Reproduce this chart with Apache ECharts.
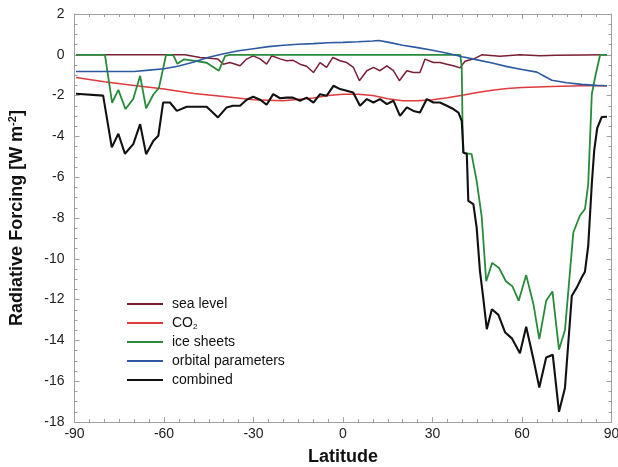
<!DOCTYPE html>
<html>
<head>
<meta charset="utf-8">
<script src="https://cdn.jsdelivr.net/npm/echarts@6/dist/echarts.min.js"></script>
<style>
  html, body { margin: 0; padding: 0; background: #fff; }
  #chart { width: 618px; height: 467px; }
</style>
</head>
<body>
<div id="chart"></div>
<script>
// Zonal mean radiative forcing by component (W m-2) versus latitude
const xTicks = [-90, -60, -30, 0, 30, 60, 90];
const yTicks = [2, 0, -2, -4, -6, -8, -10, -12, -14, -16, -18];
const seriesNames = ['sea level', 'CO2', 'ice sheets', 'orbital parameters', 'combined'];

const seaLat = [-89.5, -53.0, -47.9, -41.9, -40.1, -37.9, -34.5, -32.3, -30.1, -27.8, -25.6, -23.9, -21.1, -18.9, -16.7, -14.4, -12.2, -9.9, -7.7, -5.5, -3.4, -1.0, 1.25, 3.5, 5.5, 8.0, 10.2, 12.4, 14.7, 16.9, 18.9, 21.4, 23.6, 25.8, 27.5, 30.3, 32.5, 34.8, 37.0, 39.2, 40.9, 43.7, 46.5, 52.6, 59.3, 66.0, 71.4, 88.5];
const seaLevel = [0, 0, -0.13, -0.21, -0.46, -0.38, -0.54, -0.21, -0.05, -0.2, -0.46, -0.05, -0.2, -0.29, -0.27, -0.46, -0.56, -0.87, -0.38, -0.62, -0.13, -0.29, -0.38, -0.62, -1.27, -0.78, -0.62, -0.78, -0.54, -0.78, -1.27, -0.78, -0.87, -0.87, -0.21, -0.38, -0.38, -0.46, -0.54, -0.64, -0.32, -0.21, 0, -0.07, 0, -0.05, -0.02, 0];

const co2Lat = [-89.5, -80, -70, -60, -50, -40, -30, -20, -10, -5, 0, 5, 10, 15, 20, 25, 30, 35, 40, 45, 50, 55, 60, 70, 80, 88.5];
const co2 = [-1.11, -1.32, -1.5, -1.68, -1.9, -2.05, -2.2, -2.25, -2.12, -2.0, -1.93, -1.93, -2.0, -2.15, -2.25, -2.25, -2.2, -2.1, -1.98, -1.85, -1.74, -1.65, -1.6, -1.55, -1.52, -1.52];

const iceLat = [-89.5, -79.8, -77.4, -75.3, -72.9, -70.3, -68.0, -66.0, -63.6, -61.7, -59.3, -56.9, -55.5, -53.3, -50.2, -45.7, -41.6, -39.5, -37.9, 39.3, 39.8, 40.2, 43.1, 44.8, 46.5, 48.0, 50.0, 52.3, 54.6, 56.8, 58.9, 61.4, 63.8, 65.8, 68.1, 70.2, 72.4, 74.4, 76.1, 77.2, 79.4, 81.1, 82.2, 83.4, 84.5, 86.2, 88.5];
const iceSheets = [0, 0, -2.35, -1.72, -2.66, -2.16, -1.03, -2.62, -1.96, -1.62, 0, -0.02, -0.44, -0.22, -0.29, -0.39, -0.78, -0.05, 0, 0, -0.6, -4.79, -4.87, -6.18, -7.95, -11.1, -10.2, -10.45, -11.1, -11.35, -12.06, -10.8, -12.2, -13.94, -12.06, -11.6, -14.45, -13.5, -10.6, -8.71, -7.89, -7.56, -6.34, -1.93, -1.1, 0, 0];

const orbLat = [-89.5, -70, -65, -60, -55, -50, -45, -40, -35, -30, -25, -20, -15, -10, -5, 0, 5, 10, 12, 15, 20, 25, 30, 35, 40, 45, 50, 55, 60, 65, 67.5, 70, 75, 80, 85, 88.5];
const orbital = [-0.82, -0.82, -0.75, -0.68, -0.55, -0.35, -0.12, 0.05, 0.2, 0.3, 0.4, 0.47, 0.52, 0.55, 0.59, 0.61, 0.64, 0.68, 0.7, 0.62, 0.47, 0.35, 0.22, 0.08, -0.1, -0.25, -0.4, -0.58, -0.72, -0.85, -1.05, -1.25, -1.37, -1.45, -1.5, -1.52];

const combLat = [-89.5, -80.4, -77.5, -75.3, -73.1, -70.3, -68.0, -66.0, -63.6, -61.9, -60.3, -58.0, -55.7, -52.4, -45.7, -41.9, -39.0, -36.9, -34.5, -32.3, -30.1, -27.8, -25.6, -23.4, -21.1, -18.9, -16.8, -14.4, -12.2, -9.9, -7.7, -5.5, -3.2, -1.0, 1.25, 3.4, 5.7, 8.0, 10.2, 12.4, 14.7, 16.9, 19.1, 21.4, 23.6, 25.8, 28.1, 30.3, 32.5, 34.8, 37.0, 38.7, 39.8, 40.4, 41.5, 42.0, 43.7, 44.8, 45.9, 47.0, 48.2, 49.9, 52.1, 54.3, 56.6, 59.3, 61.4, 63.8, 65.8, 68.1, 70.3, 72.4, 74.4, 76.7, 78.4, 80.0, 81.1, 82.2, 83.4, 84.2, 85.2, 86.7, 88.5];
const combined = [-1.91, -2.0, -4.54, -3.87, -4.85, -4.38, -3.40, -4.87, -4.22, -3.97, -2.34, -2.34, -2.75, -2.55, -2.55, -3.07, -2.58, -2.50, -2.50, -2.2, -2.06, -2.2, -2.45, -1.93, -2.13, -2.1, -2.1, -2.25, -2.1, -2.34, -1.93, -2.01, -1.52, -1.68, -1.76, -1.85, -2.5, -2.17, -2.34, -2.17, -2.42, -2.25, -2.99, -2.58, -2.75, -2.83, -2.17, -2.34, -2.34, -2.5, -2.66, -2.83, -3.24, -4.79, -4.87, -7.16, -7.32, -8.47, -10.59, -11.9, -13.45, -12.47, -12.75, -13.6, -13.9, -14.63, -13.33, -14.9, -16.31, -14.84, -14.7, -17.5, -16.33, -11.81, -11.4, -10.92, -10.63, -9.36, -6.32, -4.7, -3.6, -3.05, -3.04];

const pairs = (lat, val) => lat.map((x, i) => [x, val[i]]);

const FONT = 'Liberation Sans';
const AXIS_COLOR = '#a0a0a0';

function line(name, lat, val, color, width) {
  return {
    name: name,
    type: 'line',
    data: pairs(lat, val),
    showSymbol: false,
    symbol: 'none',
    lineStyle: { color: color, width: width },
    itemStyle: { color: color },
    emphasis: { disabled: true },
    silent: true
  };
}

// Shared frame styling: plain border lines with inward ticks on all four sides
function frame(splitNumber) {
  return {
    axisLine: { show: true, onZero: false, lineStyle: { color: AXIS_COLOR, width: 1 } },
    axisTick: { show: true, inside: true, length: 5, lineStyle: { color: AXIS_COLOR } },
    minorTick: { show: true, splitNumber: splitNumber, length: 3, lineStyle: { color: AXIS_COLOR } },
    splitLine: { show: false },
    minorSplitLine: { show: false }
  };
}

const chart = echarts.init(document.getElementById('chart'), null, { renderer: 'canvas' });

chart.setOption({
  animation: false,
  backgroundColor: '#ffffff',
  textStyle: { fontFamily: FONT },
  grid: { left: 74.5, right: 6.5, top: 14, bottom: 45, containLabel: false, outerBoundsMode: 'none' },
  legend: {
    orient: 'vertical',
    left: 127,
    top: 294.5,
    padding: 0,
    itemGap: 0,
    itemWidth: 36,
    itemHeight: 2,
    icon: 'rect',
    selectedMode: false,
    data: seriesNames,
    formatter: n => n === 'CO2' ? 'CO{sub|2}' : n,
    textStyle: {
      fontFamily: FONT, fontSize: 14, color: '#111', lineHeight: 19, padding: [0, 0, 0, 4],
      rich: { sub: { fontFamily: FONT, fontSize: 8, color: '#111', padding: [8, 0, 0, 0] } }
    }
  },
  xAxis: [
    Object.assign({
      type: 'value', min: -90, max: 90, interval: 30,
      position: 'bottom',
      axisLabel: { fontFamily: FONT, fontSize: 14, color: '#222', margin: 5,
        formatter: v => xTicks.includes(v) ? String(v) : '' },
      name: 'Latitude', nameLocation: 'middle', nameGap: 26,
      nameTextStyle: { fontFamily: FONT, fontSize: 18, fontWeight: 'bold', color: '#111' }
    }, frame(6)),
    Object.assign({
      type: 'value', min: -90, max: 90, interval: 30, position: 'top',
      axisLabel: { show: false }
    }, frame(6))
  ],
  yAxis: [
    Object.assign({
      type: 'value', min: -18, max: 2, interval: 2, position: 'left',
      axisLabel: { fontFamily: FONT, fontSize: 14, color: '#222', margin: 10,
        formatter: v => yTicks.includes(v) ? String(v) : '' },
      name: 'Radiative Forcing [W m{sup|-2}]',
      nameLocation: 'middle', nameGap: 47, nameRotate: 90,
      nameTextStyle: {
        fontFamily: FONT, fontSize: 18, fontWeight: 'bold', color: '#111',
        rich: { sup: { fontFamily: FONT, fontSize: 11, fontWeight: 'bold', color: '#111', padding: [0, 0, 9, 0] } }
      }
    }, frame(4)),
    Object.assign({
      type: 'value', min: -18, max: 2, interval: 2, position: 'right',
      axisLabel: { show: false }
    }, frame(4))
  ],
  series: [
    line(seriesNames[0], seaLat, seaLevel, '#7a1f33', 1.5),
    line(seriesNames[1], co2Lat, co2, '#df3a3c', 1.5),
    line(seriesNames[2], iceLat, iceSheets, '#2a8a3c', 1.8),
    line(seriesNames[3], orbLat, orbital, '#2c5aa0', 1.6),
    line(seriesNames[4], combLat, combined, '#111111', 2.1)
  ]
});
</script>
</body>
</html>
